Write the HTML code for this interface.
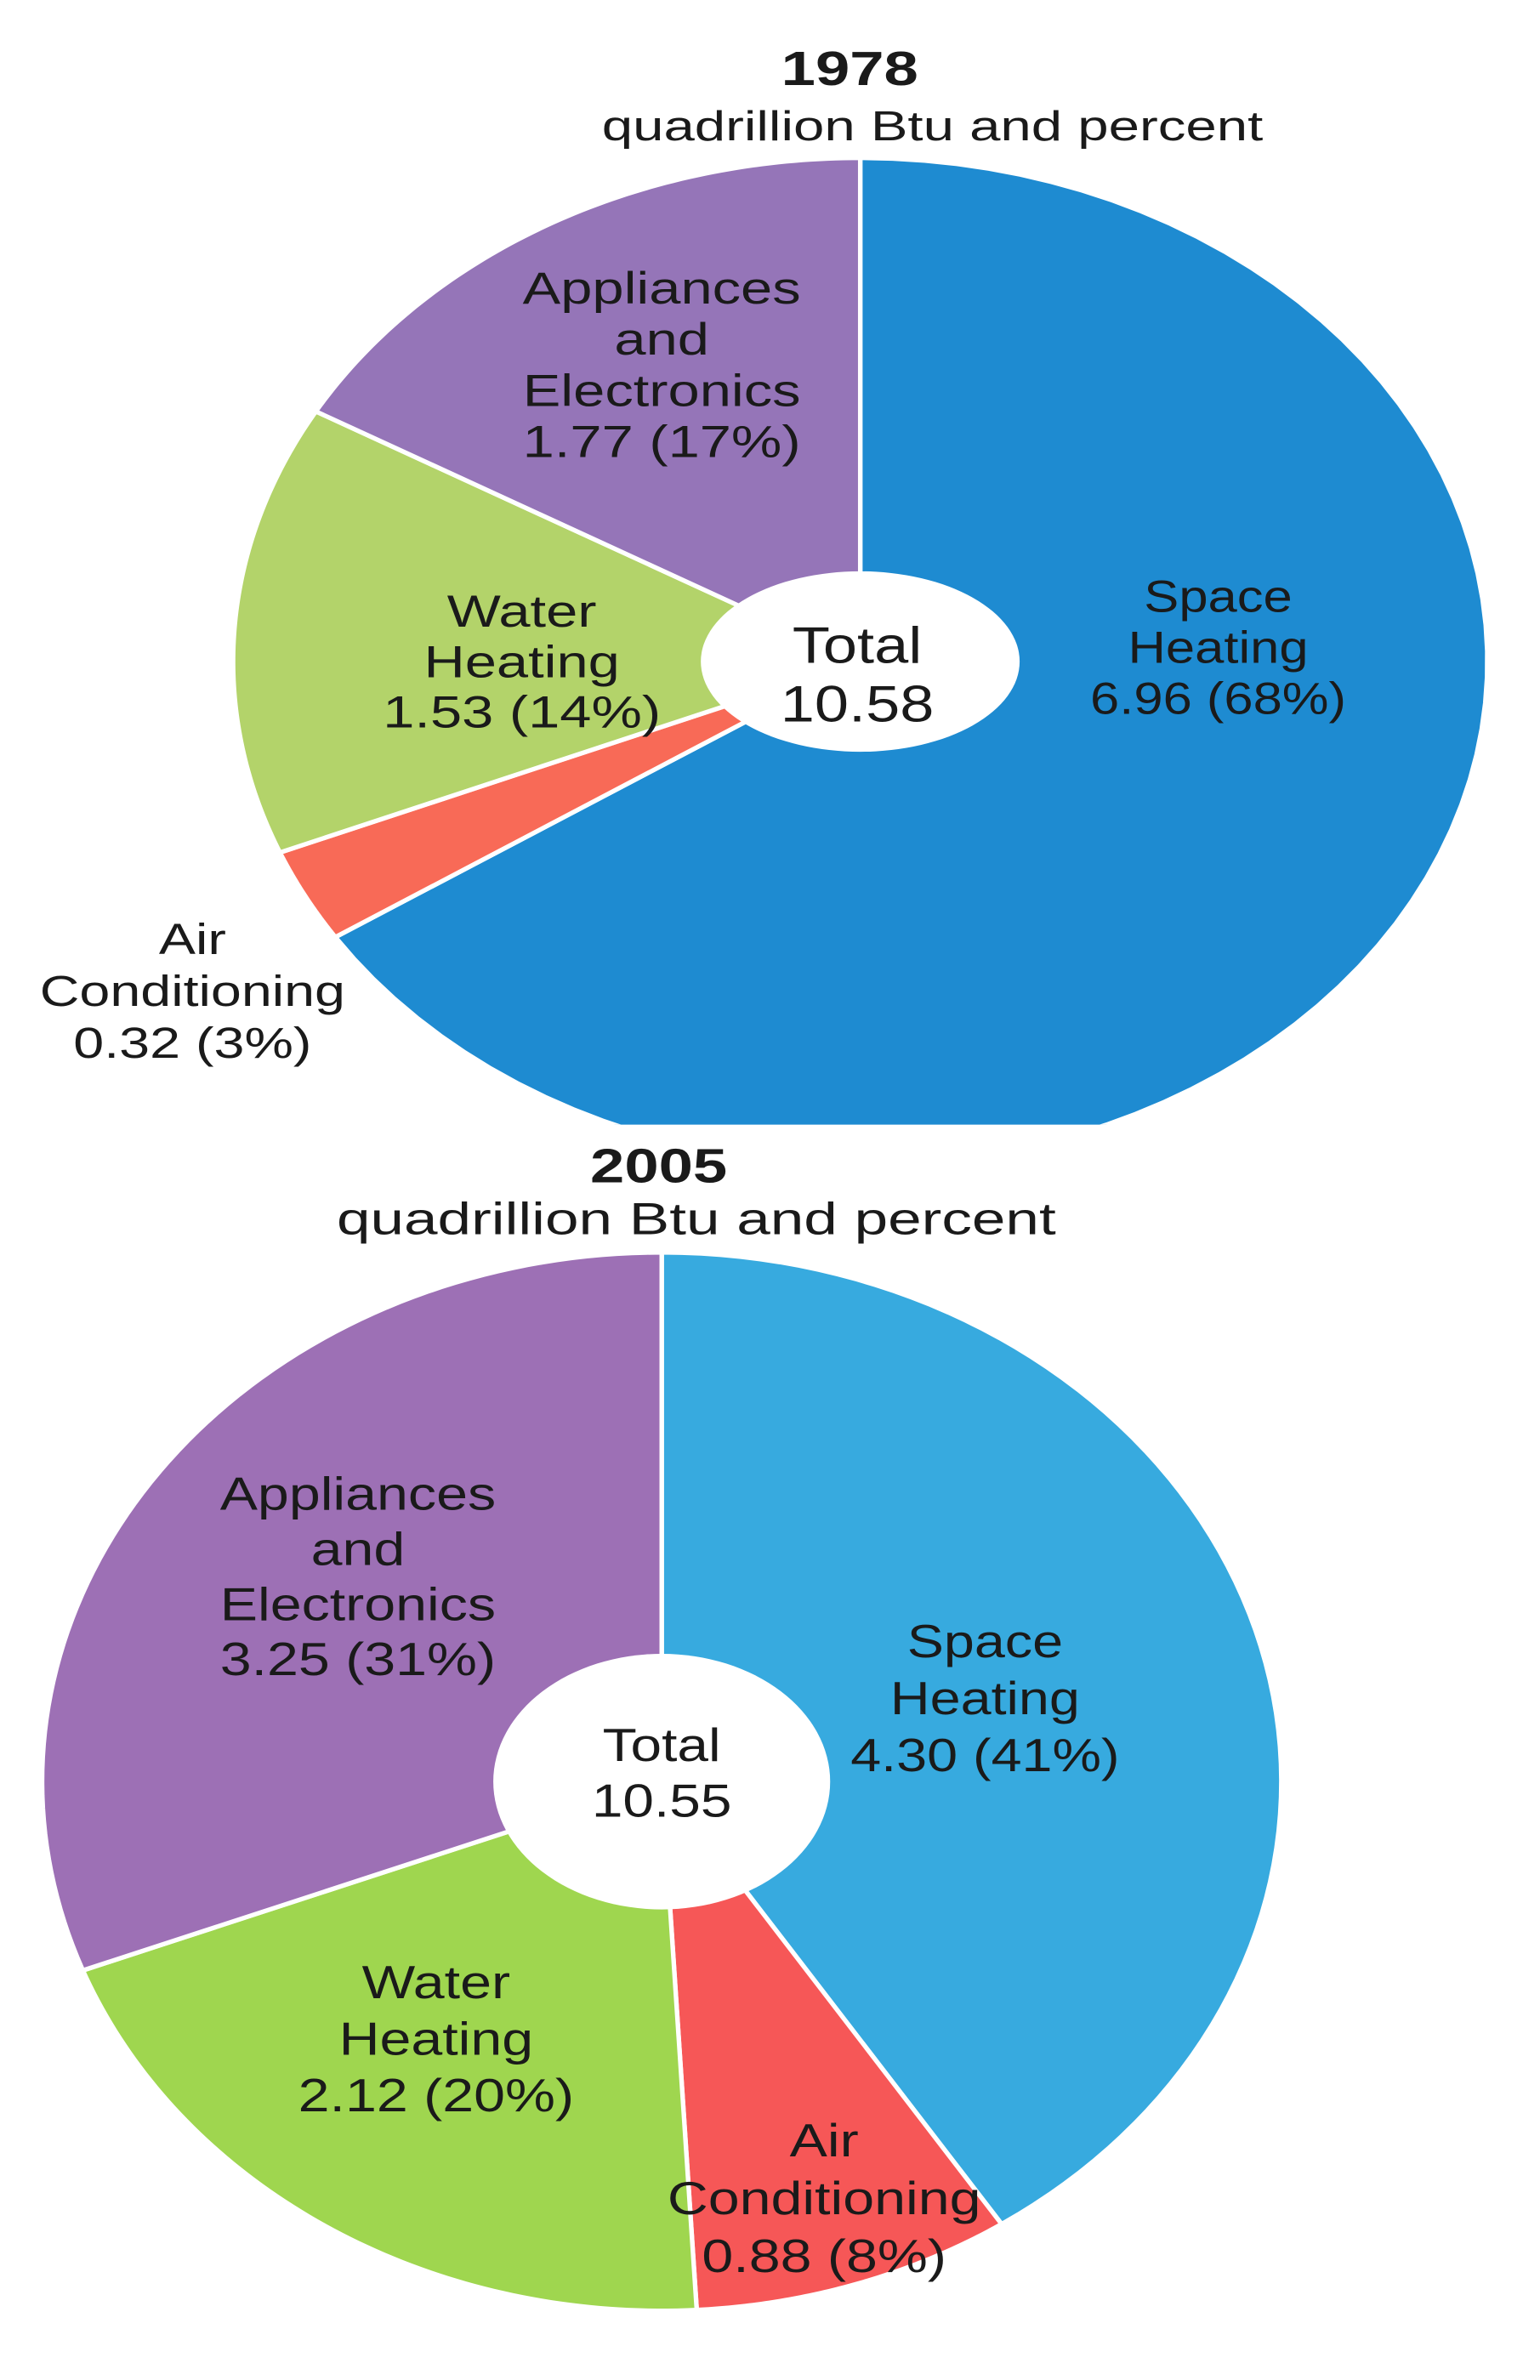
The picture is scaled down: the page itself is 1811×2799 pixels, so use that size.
<!DOCTYPE html>
<html><head><meta charset="utf-8"><title>Residential energy by end use 1978 vs 2005</title>
<style>
html,body{margin:0;padding:0;background:#fff;}
svg{display:block;}
text{font-family:"Liberation Sans",sans-serif;fill:#1a1a1a;}
</style></head>
<body>
<svg id="chart" width="1811" height="2799" viewBox="0 0 1024 1583" preserveAspectRatio="none" xmlns="http://www.w3.org/2000/svg">
<defs><clipPath id="clipTop"><rect x="0" y="0" width="1024" height="748"/></clipPath></defs>
<rect width="1024" height="1583" fill="#fff"/>
<g id="top" clip-path="url(#clipTop)"></g>
<g id="bottom"></g>
<g id="labels"></g>
</svg>
<script>
const categories = ["Space Heating","Air Conditioning","Water Heating","Appliances and Electronics"];
const values1978 = [6.96, 0.32, 1.53, 1.77];
const values2005 = [4.30, 0.88, 2.12, 3.25];
const totals = ["10.58","10.55"];
const pct1978 = ["68%","3%","14%","17%"];
const pct2005 = ["41%","8%","20%","31%"];
const colors1978 = ["#1e8bd1","#f86a57","#b3d36a","#9575b8"];
const colors2005 = ["#37aadf","#f65757","#9fd64f","#9d70b5"];

const NS="http://www.w3.org/2000/svg";
function mk(tag, attrs, parent){const e=document.createElementNS(NS,tag);for(const k in attrs)e.setAttribute(k,attrs[k]);parent.appendChild(e);return e;}
function pt(cx,cy,rx,ry,f){const a=f*2*Math.PI;return [cx+rx*Math.sin(a), cy-ry*Math.cos(a)];}
function drawPie(g,vals,cols,cx,cy,rx,ry,hx,hy,year){
  const tot=vals.reduce((a,b)=>a+b,0);let acc=0;
  vals.forEach((v,i)=>{
    const f0=acc/tot,f1=(acc+v)/tot;acc+=v;
    const steps=80;let d="";
    for(let s=0;s<=steps;s++){const p=pt(cx,cy,rx,ry,f0+(f1-f0)*s/steps);d+=(s?"L":"M")+p[0].toFixed(2)+","+p[1].toFixed(2);}
    d+="L"+cx+","+cy+"Z";
    const p=mk("path",{d:d,fill:cols[i],stroke:"#fff","stroke-width":3,"stroke-linejoin":"round"},g);
    
    
  });
  const h=mk("ellipse",{cx:cx,cy:cy,rx:hx,ry:hy,fill:"#fff"},g);
  
  
}
drawPie(document.getElementById("top"),values1978,colors1978,572,440,417,335,106,60,"1978");
drawPie(document.getElementById("bottom"),values2005,colors2005,440,1185,412,352,112,85,"2005");

const L=document.getElementById("labels");
function label(lines,x,y0,dy,size,name,weight,sx){
  sx=sx||1.28;
  y0+=8;
  const t=mk("text",{x:x,"text-anchor":"middle","font-size":size,"font-weight":weight||"normal",transform:"translate("+x+",0) scale("+sx+",1) translate("+(-x)+",0)"},L);
  
  
  lines.forEach((s,i)=>{const ts=mk("tspan",{x:x,y:y0+i*dy,"dominant-baseline":"middle"},t);ts.textContent=s;});
}
label(["1978"],565,40,0,32,"title-1978","bold",1.28);
label(["quadrillion Btu and  percent"],620,78,0,28,"subtitle-1978",null,1.32);
label(["Appliances","and","Electronics",values1978[3].toFixed(2)+" ("+pct1978[3]+")"],440,186,34,30,"label-appliances-1978",null,1.26);
label(["Water","Heating",values1978[2].toFixed(2)+" ("+pct1978[2]+")"],347,401,33.5,30,"label-water-heating-1978",null,1.26);
label(["Total",totals[0]],570,424,39,34,"total-1978",null,1.2);
label(["Space","Heating",values1978[0].toFixed(2)+" ("+pct1978[0]+")"],810,391,34,30,"label-space-heating-1978",null,1.16);
label(["Air","Conditioning",values1978[1].toFixed(2)+" ("+pct1978[1]+")"],128,619,34.5,29,"label-air-conditioning-1978",null,1.26);

label(["2005"],438,770,0,32,"title-2005","bold",1.28);
label(["quadrillion Btu and percent"],463,805,0,30,"subtitle-2005",null,1.34);
label(["Appliances","and","Electronics",values2005[3].toFixed(2)+" ("+pct2005[3]+")"],238,988,36.7,31,"label-appliances-2005",null,1.21);
label(["Total",totals[1]],440,1155,37,31,"total-2005",null,1.2);
label(["Space","Heating",values2005[0].toFixed(2)+" ("+pct2005[0]+")"],655,1086,38,31,"label-space-heating-2005",null,1.18);
label(["Water","Heating",values2005[2].toFixed(2)+" ("+pct2005[2]+")"],290,1313,37.5,31,"label-water-heating-2005",null,1.21);
label(["Air","Conditioning",values2005[1].toFixed(2)+" ("+pct2005[1]+")"],548,1418,38.5,31,"label-air-conditioning-2005",null,1.21);
</script>
</body></html>
